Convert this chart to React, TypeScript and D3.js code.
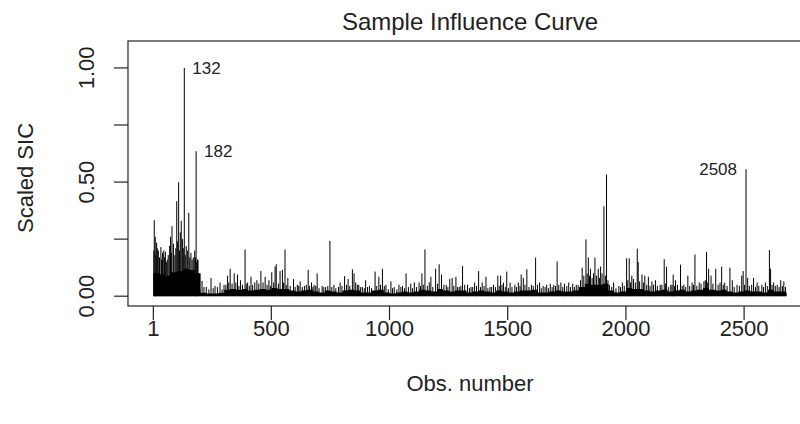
import React from 'react'
import * as d3 from 'd3'

// Sample influence curve, one vertical line per observation (R type="h")
const nObs = 2680
const obsTicks = [1, 500, 1000, 1500, 2000, 2500]
const sicTicks = [0, 0.25, 0.5, 0.75, 1]
const sicTickLabels = ['0.00', '', '0.50', '', '1.00']
const labelledObs = [132, 182, 2508]

// dense low band, one level per block of 25 observations
const floorBlock = 25
const floorLevel = [
  0.10, 0.095, 0.09, 0.105, 0.11, 0.12, 0.115, 0.10, 0.015, 0.012,
  0.012, 0.015, 0.028, 0.032, 0.028, 0.032, 0.025, 0.028, 0.032, 0.028,
  0.036, 0.032, 0.032, 0.025, 0.02, 0.025, 0.028, 0.02, 0.016, 0.025,
  0.02, 0.016, 0.025, 0.028, 0.025, 0.016, 0.016, 0.025, 0.028, 0.016,
  0.012, 0.016, 0.02, 0.016, 0.02, 0.028, 0.025, 0.02, 0.032, 0.025,
  0.02, 0.025, 0.025, 0.016, 0.02, 0.025, 0.02, 0.016, 0.025, 0.02,
  0.016, 0.02, 0.025, 0.025, 0.028, 0.016, 0.016, 0.02, 0.025, 0.02,
  0.02, 0.025, 0.04, 0.055, 0.05, 0.05, 0.055, 0.025, 0.016, 0.02,
  0.036, 0.032, 0.032, 0.025, 0.02, 0.025, 0.028, 0.02, 0.025, 0.028,
  0.02, 0.025, 0.028, 0.036, 0.028, 0.025, 0.028, 0.02, 0.016, 0.02,
  0.025, 0.02, 0.02, 0.016, 0.028, 0.02, 0.02, 0.016,
]

// taller individual observations
const spikeObs = [
  5, 9, 15, 22, 33, 40, 52, 60, 70, 80, 86, 92, 100, 108, 115, 124, 132, 140, 151, 160,
  170, 176, 182, 188, 207, 225, 245, 262, 283, 300, 315, 326, 343, 357, 370, 389, 400, 414, 430, 439,
  456, 474, 490, 502, 516, 521, 537, 547, 558, 570, 594, 610, 622, 640, 656, 670, 681, 694, 715, 730,
  748, 765, 791, 810, 825, 843, 850, 870, 885, 899, 915, 939, 955, 970, 985, 1006, 1020, 1040, 1055, 1070,
  1090, 1105, 1125, 1137, 1150, 1175, 1195, 1210, 1220, 1240, 1255, 1265, 1281, 1295, 1309, 1330, 1345, 1360, 1377, 1392,
  1408, 1425, 1440, 1458, 1470, 1482, 1496, 1510, 1530, 1545, 1557, 1566, 1581, 1600, 1618, 1635, 1650, 1665, 1680, 1695,
  1709, 1725, 1740, 1758, 1775, 1790, 1815, 1831, 1841, 1850, 1869, 1883, 1893, 1907, 1918, 1930, 1948, 1970, 1985, 2003,
  2014, 2025, 2048, 2052, 2068, 2080, 2095, 2110, 2125, 2145, 2162, 2172, 2190, 2200, 2210, 2231, 2245, 2262, 2280, 2292,
  2310, 2341, 2350, 2360, 2380, 2405, 2418, 2440, 2450, 2470, 2490, 2496, 2508, 2515, 2540, 2555, 2575, 2590, 2607, 2612,
  2625, 2640, 2655, 2668,
]
const spikeSic = [
  0.333, 0.26, 0.235, 0.2, 0.215, 0.19, 0.195, 0.16, 0.22, 0.307, 0.23, 0.18, 0.416, 0.499, 0.28, 0.25, 1.0, 0.22, 0.365, 0.19,
  0.17, 0.2, 0.635, 0.16, 0.067, 0.04, 0.08, 0.045, 0.06, 0.05, 0.09, 0.12, 0.1, 0.095, 0.07, 0.205, 0.06, 0.085, 0.06, 0.07,
  0.11, 0.085, 0.07, 0.105, 0.13, 0.14, 0.11, 0.115, 0.205, 0.08, 0.075, 0.05, 0.065, 0.045, 0.115, 0.06, 0.05, 0.1, 0.045, 0.04,
  0.242, 0.05, 0.06, 0.088, 0.075, 0.118, 0.1, 0.05, 0.04, 0.07, 0.045, 0.108, 0.085, 0.12, 0.05, 0.065, 0.04, 0.05, 0.045, 0.1,
  0.055, 0.06, 0.06, 0.1, 0.205, 0.085, 0.12, 0.14, 0.095, 0.05, 0.075, 0.08, 0.085, 0.04, 0.132, 0.05, 0.04, 0.06, 0.11, 0.06,
  0.085, 0.04, 0.05, 0.09, 0.09, 0.06, 0.108, 0.06, 0.05, 0.06, 0.095, 0.08, 0.118, 0.05, 0.169, 0.06, 0.045, 0.05, 0.055, 0.05,
  0.152, 0.06, 0.055, 0.06, 0.055, 0.05, 0.125, 0.249, 0.17, 0.12, 0.169, 0.12, 0.13, 0.394, 0.533, 0.05, 0.06, 0.045, 0.06, 0.166,
  0.166, 0.09, 0.208, 0.15, 0.095, 0.09, 0.085, 0.065, 0.07, 0.05, 0.162, 0.13, 0.05, 0.095, 0.07, 0.138, 0.05, 0.09, 0.06, 0.183,
  0.06, 0.194, 0.12, 0.09, 0.12, 0.13, 0.06, 0.125, 0.07, 0.05, 0.09, 0.11, 0.556, 0.08, 0.08, 0.06, 0.05, 0.06, 0.202, 0.12,
  0.06, 0.05, 0.07, 0.065,
]

// smaller observations that give the band its ragged top
const minorObs = [
  3, 12, 18, 27, 36, 45, 48, 56, 64, 74, 77, 96, 104, 112, 119, 128, 136, 145, 155, 165,
  179, 185, 190, 198, 215, 236, 254, 272, 292, 308, 320, 334, 350, 363, 378, 394, 407, 421, 447, 465,
  482, 496, 510, 530, 552, 563, 580, 601, 616, 631, 648, 662, 676, 688, 702, 722, 739, 756, 773, 784,
  799, 818, 832, 857, 864, 878, 893, 907, 924, 946, 962, 978, 995, 1013, 1031, 1048, 1063, 1080, 1097, 1114,
  1131, 1143, 1160, 1168, 1183, 1203, 1230, 1247, 1272, 1288, 1302, 1318, 1338, 1352, 1368, 1385, 1400, 1416, 1432, 1448,
  1464, 1476, 1490, 1503, 1518, 1537, 1552, 1573, 1590, 1608, 1626, 1642, 1658, 1672, 1688, 1702, 1716, 1733, 1750, 1766,
  1782, 1798, 1808, 1822, 1836, 1846, 1857, 1863, 1876, 1888, 1899, 1913, 1924, 1940, 1958, 1977, 1993, 2008, 2020, 2032,
  2040, 2058, 2074, 2088, 2102, 2117, 2133, 2152, 2167, 2181, 2195, 2205, 2218, 2238, 2253, 2270, 2286, 2300, 2318, 2330,
  2336, 2346, 2368, 2390, 2398, 2412, 2428, 2458, 2480, 2502, 2522, 2532, 2548, 2562, 2582, 2598, 2618, 2632, 2648, 2662,
  2675,
]
const minorSic = [
  0.2, 0.18, 0.21, 0.17, 0.16, 0.2, 0.17, 0.15, 0.18, 0.26, 0.19, 0.21, 0.24, 0.2, 0.33, 0.21, 0.18, 0.2, 0.17, 0.16,
  0.17, 0.15, 0.16, 0.03, 0.04, 0.03, 0.035, 0.04, 0.03, 0.05, 0.06, 0.055, 0.06, 0.045, 0.05, 0.055, 0.045, 0.05, 0.055, 0.06,
  0.05, 0.045, 0.06, 0.055, 0.06, 0.05, 0.045, 0.04, 0.045, 0.04, 0.05, 0.045, 0.04, 0.045, 0.035, 0.04, 0.045, 0.04, 0.035, 0.04,
  0.045, 0.05, 0.045, 0.06, 0.05, 0.04, 0.035, 0.04, 0.035, 0.045, 0.05, 0.045, 0.03, 0.035, 0.03, 0.04, 0.035, 0.04, 0.035, 0.04,
  0.045, 0.05, 0.045, 0.06, 0.04, 0.055, 0.05, 0.04, 0.045, 0.04, 0.045, 0.05, 0.035, 0.04, 0.045, 0.04, 0.045, 0.035, 0.04, 0.04,
  0.045, 0.05, 0.04, 0.035, 0.04, 0.04, 0.045, 0.05, 0.04, 0.045, 0.05, 0.035, 0.04, 0.035, 0.04, 0.045, 0.05, 0.04, 0.045, 0.04,
  0.04, 0.05, 0.07, 0.09, 0.1, 0.09, 0.08, 0.1, 0.09, 0.08, 0.1, 0.09, 0.07, 0.04, 0.035, 0.04, 0.045, 0.07, 0.06, 0.075,
  0.06, 0.065, 0.06, 0.05, 0.045, 0.05, 0.045, 0.05, 0.055, 0.04, 0.05, 0.045, 0.05, 0.045, 0.04, 0.045, 0.05, 0.045, 0.055, 0.065,
  0.07, 0.06, 0.055, 0.05, 0.06, 0.05, 0.045, 0.04, 0.045, 0.05, 0.045, 0.05, 0.04, 0.045, 0.04, 0.045, 0.05, 0.045, 0.04, 0.045,
  0.04,
]

const W = 800
const H = 424
const font = '"Liberation Sans", Arial, Helvetica, sans-serif'

export default function App() {
  // R pads the data range by 4% on each side
  const pad = (nObs - 1) * 0.04
  const x = d3.scaleLinear().domain([1 - pad, nObs + pad]).range([128, 812])
  const y = d3.scaleLinear().domain([-0.043, 1.118]).range([306, 41])

  const floorPts: [number, number][] = floorLevel.map((v, i) => [1 + i * floorBlock, v])
  floorPts.push([nObs, floorLevel[floorLevel.length - 1]])
  const area = d3.area<[number, number]>()
    .x(d => x(d[0]))
    .y0(y(0))
    .y1(d => y(d[1]))
    .curve(d3.curveStepAfter)

  const [left, right] = x.range()
  const [bottom, top] = y.range()
  const cx = (left + right) / 2

  return (
    <svg width={W} height={H} style={{ position: 'absolute', left: 0, top: 0, background: '#fff' }}
      fontFamily={font}>
      <rect x={0} y={0} width={W} height={H} fill="#fff" />

      <path d={area(floorPts) || ''} fill="#000" />
      <g stroke="#000" strokeWidth={1}>
        {minorObs.map((o, i) => (
          <line key={'m' + i} x1={x(o)} x2={x(o)} y1={y(0)} y2={y(minorSic[i])} />
        ))}
        {spikeObs.map((o, i) => (
          <line key={i} x1={x(o)} x2={x(o)} y1={y(0)} y2={y(spikeSic[i])} />
        ))}
      </g>

      {labelledObs.map(o => {
        const i = spikeObs.indexOf(o)
        const end = o > 1000
        return (
          <text key={o} x={x(o) + (end ? -9 : 8)} y={y(spikeSic[i]) + 6} fontSize={17}
            textAnchor={end ? 'end' : 'start'} fill="#222">{o}</text>
        )
      })}

      <rect x={left} y={top} width={right - left} height={bottom - top} fill="none" stroke="#222" strokeWidth={1.2} />

      {/* x axis */}
      {obsTicks.map(t => (
        <g key={t}>
          <line x1={x(t)} x2={x(t)} y1={bottom} y2={bottom + 14} stroke="#222" strokeWidth={1.2} />
          <text x={x(t)} y={bottom + 30} fontSize={22} textAnchor="middle" fill="#222">{t}</text>
        </g>
      ))}
      <text x={cx} y={391} fontSize={22} textAnchor="middle" fill="#222">Obs. number</text>

      {/* y axis */}
      {sicTicks.map((t, i) => (
        <g key={t}>
          <line x1={left - 14} x2={left} y1={y(t)} y2={y(t)} stroke="#222" strokeWidth={1.2} />
          {sicTickLabels[i] && (
            <text transform={`translate(94,${y(t)}) rotate(-90)`} fontSize={22} textAnchor="middle" fill="#222">
              {sicTickLabels[i]}
            </text>
          )}
        </g>
      ))}
      <text transform={`translate(33,178) rotate(-90)`} fontSize={22} textAnchor="middle" fill="#222">Scaled SIC</text>

      <text x={cx} y={30} fontSize={24} textAnchor="middle" fill="#222">Sample Influence Curve</text>
    </svg>
  )
}
